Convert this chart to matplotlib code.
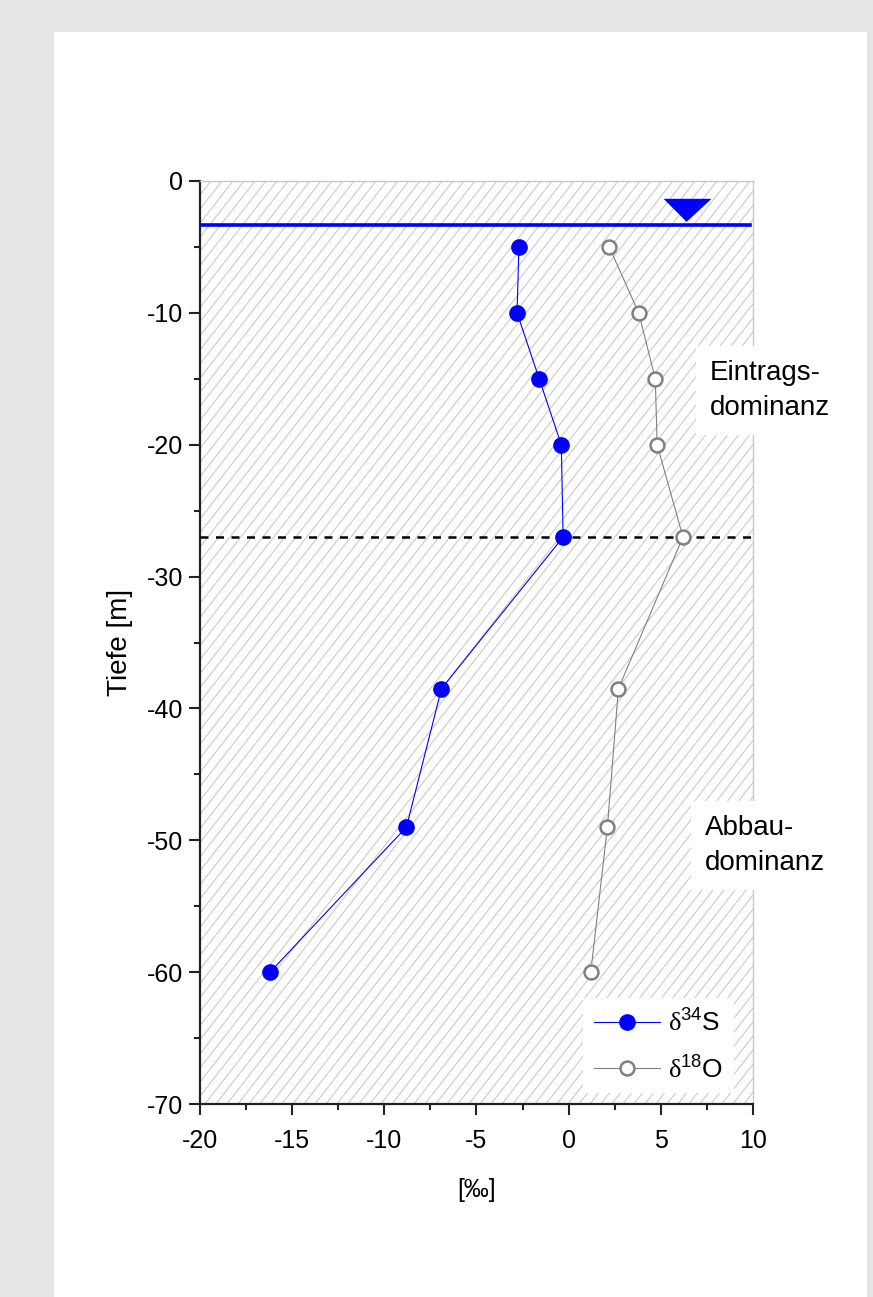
import numpy as np
import matplotlib
matplotlib.use("Agg")
import matplotlib.pyplot as plt
from matplotlib.patches import Rectangle, Polygon
from matplotlib.collections import LineCollection

plt.rcParams['font.family'] = ['Liberation Sans', 'DejaVu Sans']
plt.rcParams['axes.unicode_minus'] = False
plt.rcParams['mathtext.fontset'] = 'custom'
plt.rcParams['mathtext.rm'] = 'Liberation Sans'
plt.rcParams['mathtext.sf'] = 'Liberation Serif'

# depth profile (m) and isotope values (permil)
depth = [-5, -10, -15, -20, -27, -38.5, -49, -60]
d34S = [-2.7, -2.8, -1.6, -0.4, -0.3, -6.9, -8.8, -16.2]
d18O = [2.2, 3.8, 4.7, 4.8, 6.2, 2.7, 2.1, 1.2]

water_level = -3.3
boundary = -27
x_ticks = [-20, -15, -10, -5, 0, 5, 10]
y_ticks = [0, -10, -20, -30, -40, -50, -60, -70]

fig = plt.figure(figsize=(8.73, 12.97), dpi=100, facecolor='#e5e5e5')
fig.patches.append(Rectangle((54 / 873, 0), 813 / 873, 1265 / 1297,
                             transform=fig.transFigure, facecolor='white',
                             edgecolor='none', zorder=-1))

ax = fig.add_axes([200 / 873, 1 - 1104 / 1297, 553 / 873, 923 / 1297])
ax.set_facecolor('white')
ax.set_xlim(-20, 10)
ax.set_ylim(-70, 0)

# diagonal hatching over the whole plot area
ax_w, ax_h = 553.0, 923.0
step = 11.0
run = ax_h / np.tan(np.radians(52))
segs = []
for x0 in np.arange(-run, ax_w + step, step):
    segs.append([(x0 / ax_w, 0), ((x0 + run) / ax_w, 1)])
hatch = LineCollection(segs, colors='#c8c8c8', linewidths=0.75,
                       transform=ax.transAxes, zorder=0.5)
ax.add_collection(hatch)

# water table with marker triangle
ax.plot([-19.9, 9.85], [water_level, water_level], color='#0000ff', lw=2.6, zorder=3)
tri = Polygon([(5.15, water_level + 1.95), (7.75, water_level + 1.95),
               (6.4, water_level + 0.2)], closed=True, facecolor='#0000ff',
              edgecolor='none', zorder=3)
ax.add_patch(tri)

ax.axhline(boundary, color='black', lw=1.8, ls=(0, (3.2, 3.0)), zorder=3)

ax.plot(d34S, depth, color='#0000ff', lw=0.8, marker='o', ms=11,
        mfc='#0000ff', mec='#0000ff', label=r'$\mathsf{\delta}^{34}$S', zorder=4)
ax.plot(d18O, depth, color='#808080', lw=0.8, marker='o', ms=10,
        mfc='white', mec='#808080', mew=1.8, label=r'$\mathsf{\delta}^{18}$O', zorder=4)

ax.text(7.65, -15.9, 'Eintrags-\ndominanz', fontsize=20, va='center', ha='left',
        linespacing=1.45, zorder=5, clip_on=False,
        bbox=dict(boxstyle='square,pad=0.5', facecolor='white', edgecolor='none'))
ax.text(7.4, -50.4, 'Abbau-\ndominanz', fontsize=20, va='center', ha='left',
        linespacing=1.45, zorder=5, clip_on=False,
        bbox=dict(boxstyle='square,pad=0.5', facecolor='white', edgecolor='none'))

leg = ax.legend(loc='lower right', bbox_to_anchor=(0.965, 0.012), fontsize=19,
                frameon=True, handlelength=2.5, handletextpad=0.3,
                labelspacing=0.7, borderaxespad=0, fancybox=False)
leg.get_frame().set_edgecolor('none')
leg.get_frame().set_facecolor('white')
leg.get_frame().set_alpha(1)
leg.set_zorder(6)

for side in ['top', 'right']:
    ax.spines[side].set_color('#c8c8c8')
    ax.spines[side].set_linewidth(1.0)
for side in ['left', 'bottom']:
    ax.spines[side].set_color('#222222')
    ax.spines[side].set_linewidth(1.6)

ax.set_xticks(x_ticks)
ax.set_yticks(y_ticks)
ax.set_xticks(np.arange(-17.5, 10, 5), minor=True)
ax.set_yticks(np.arange(-65, 0, 10), minor=True)
ax.tick_params(which='major', direction='out', length=8, width=1.5,
               labelsize=18, color='#222222')
ax.tick_params(which='minor', direction='out', length=4, width=1.5, color='#222222')
ax.tick_params(axis='x', pad=10)
ax.tick_params(axis='y', pad=4)

ax.set_xlabel('[‰]', fontsize=18, labelpad=18)
ax.set_ylabel('Tiefe [m]', fontsize=20, labelpad=10)

fig.savefig('out.png', dpi=100, facecolor=fig.get_facecolor())
